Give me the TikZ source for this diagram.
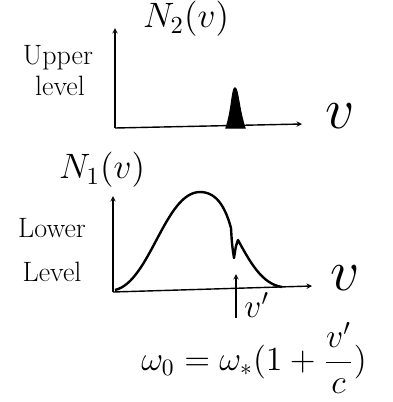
\documentclass[tikz,border=0pt]{standalone}
\usetikzlibrary{arrows.meta}
\begin{document}
\begin{tikzpicture}[x=1pt,y=-1pt,>=stealth,
  axis/.style={->,line width=1.4pt},
  curve/.style={line width=2.4pt,line join=round},
  lbl/.style={font=\fontsize{28}{30}\selectfont,inner sep=0pt},
  mlbl/.style={font=\Large,scale=2.45,inner sep=0pt},
  big/.style={font=\Large,scale=4,inner sep=0pt}]
  \useasboundingbox (0,0) rectangle (392,402);
  % upper level
  \coordinate (O2) at (115,128);
  \draw[axis] (O2) -- (115,28);
  \draw[axis] (O2) -- (302,124);
  \node[mlbl] (n2) at (186,19) {$N_2(v)$};
  \node[big] (v2) at (340,116) {$v$};
  \node[lbl] (up) at (58,58) {Upper};
  \node[lbl] (lv) at (60,86) {level};
  \filldraw[line width=1.2pt] (226,128) .. controls (232,110) and (232,88) .. (235,88)
    .. controls (238,88) and (239,110) .. (245,128) -- cycle;
  % lower level
  \coordinate (O1) at (113,292);
  \draw[axis] (O1) -- (113,196);
  \draw[axis] (O1) -- (312,286);
  \node[mlbl] (n1) at (102,170) {$N_1(v)$};
  \node[big] (v1) at (345,278) {$v$};
  \node[lbl] (lo) at (52,228) {Lower};
  \node[lbl] (le) at (52,272) {Level};
  \draw[curve] (115,290) .. controls (150,282) and (165,192) .. (200,192)
    .. controls (218,192) and (226,210) .. (231,228)
    .. controls (232,245) .. (234,258)
    .. controls (236,245) .. (238,240)
    .. controls (250,262) and (262,284) .. (282,287);
  \coordinate (b) at (236,318);
  \coordinate (t) at (236,274);
  \draw[axis] (b) -- (t);
  \node[mlbl,scale=0.95,anchor=west] (vp) at (244,305) {$v'$};
  % Doppler shift
  \node[font=\Large,scale=2.35,inner sep=0pt] (eq) at (254,358)
    {$\omega_0=\omega_{*}\bigl(1+\displaystyle\frac{v'}{c}\bigr)$};
\end{tikzpicture}
\end{document}
